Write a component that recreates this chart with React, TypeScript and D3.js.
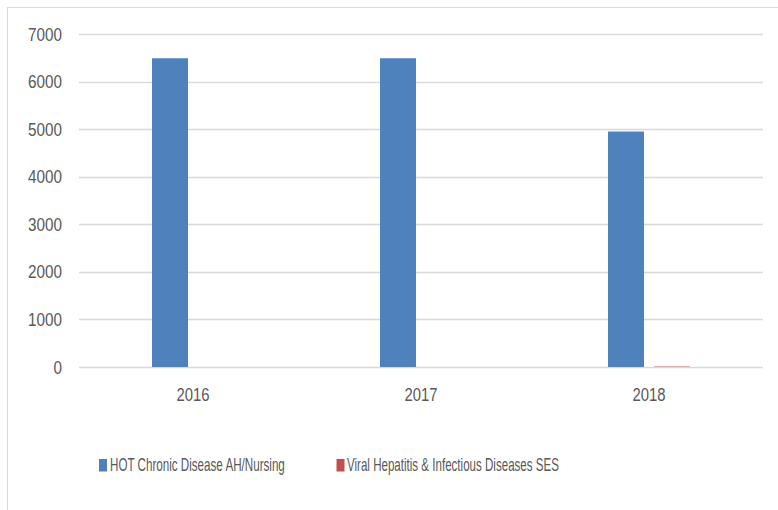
import React, { useLayoutEffect, useRef, useState } from "react";
import * as d3 from "d3";

const categories = ["2016", "2017", "2018"];
const seriesNames = ["HOT Chronic Disease AH/Nursing", "Viral Hepatitis & Infectious Diseases SES"];
const hotValues = [6490, 6490, 4950];
const viralValues = [0, 0, 18];
const yTicks = [0, 1000, 2000, 3000, 4000, 5000, 6000, 7000];
const colors = ["#4F81BD", "#C0504D"];

const W = 778;
const H = 510;
const FONT = "'Liberation Sans', Arial, sans-serif";

type STProps = { x: number; y: number; width: number; anchor: "start" | "middle" | "end"; children: string };

function ScaledText({ x, y, width, anchor, children }: STProps) {
  const ref = useRef<SVGTextElement>(null);
  const [sx, setSx] = useState(1);
  useLayoutEffect(() => {
    if (ref.current) {
      const w = ref.current.getComputedTextLength();
      if (w > 0) setSx(width / w);
    }
  }, [width, children]);
  return (
    <text
      ref={ref}
      transform={`translate(${x},${y}) scale(${sx},1)`}
      textAnchor={anchor}
      fontFamily={FONT}
      fontSize={18}
      fill="#595959"
    >
      {children}
    </text>
  );
}

export default function App() {
  const left = 79;
  const right = 763;
  const top = 34;
  const bottom = 367;
  const x0 = d3.scaleBand<string>().domain(categories).range([left, right]).paddingInner(0).paddingOuter(0);
  const y = d3.scaleLinear().domain([0, 7000]).range([bottom, top]);
  const barW = 36;
  const gap = 10;
  const series = [hotValues, viralValues];
  const numLen = (s: string) => (s.length === 1 ? 8.5 : s.length * 8.5);

  return (
    <svg width={W} height={H} style={{ position: "absolute", left: 0, top: 0, background: "#fff" }}>
      <rect x={7.5} y={7.5} width={790} height={520} fill="#fff" stroke="#d9d9d9" strokeWidth={1} />
      {yTicks.map((t) => (
        <g key={t}>
          <line x1={left} x2={right} y1={Math.round(y(t)) + 0.5} y2={Math.round(y(t)) + 0.5} stroke="#d9d9d9" strokeWidth={1.5} />
          <ScaledText x={62} y={y(t) + 6.5} width={numLen(String(t))} anchor="end">
            {String(t)}
          </ScaledText>
        </g>
      ))}
      {categories.map((c, i) => {
        const cx = (x0(c) as number) + x0.bandwidth() / 2;
        return (
          <g key={c}>
            {series.map((vals, s) => {
              const bx = s === 0 ? cx - gap / 2 - barW : cx + gap / 2;
              const v = vals[i];
              if (v <= 0) return null;
              const h = Math.max(bottom - y(v), 0);
              return <rect key={s} x={bx} y={y(v)} width={barW} height={h} fill={colors[s]} opacity={s === 1 ? 0.5 : 1} />;
            })}
            <ScaledText x={cx} y={400.5} width={33} anchor="middle">
              {c}
            </ScaledText>
          </g>
        );
      })}
      <rect x={99} y={459} width={8} height={12.5} fill={colors[0]} />
      <ScaledText x={110} y={471} width={175} anchor="start">
        {seriesNames[0]}
      </ScaledText>
      <rect x={336.5} y={459} width={8} height={12.5} fill={colors[1]} />
      <ScaledText x={347} y={471} width={212} anchor="start">
        {seriesNames[1]}
      </ScaledText>
    </svg>
  );
}
